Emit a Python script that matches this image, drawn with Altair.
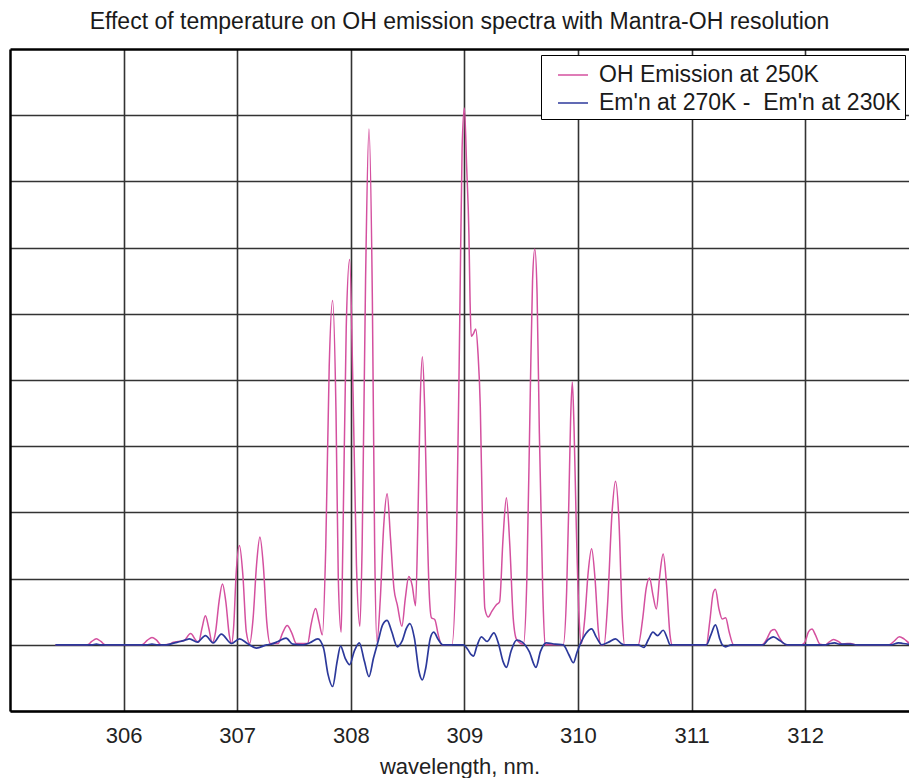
import altair as alt
import pandas as pd

# ---- data ----
emission_label = "OH Emission at 250K"
diff_label = "Em'n at 270K -\u00a0 Em'n at 230K"

# OH emission at 250K: (wavelength nm, intensity)
emission_points = [
    (305.40, 0), (305.68, 0), (305.72, 0.05), (305.76, 0.09), (305.80, 0.05), (305.84, 0),
    (306.16, 0), (306.21, 0.07), (306.25, 0.11), (306.29, 0.07), (306.33, 0),
    (306.40, 0.01), (306.44, 0.04), (306.48, 0.05), (306.53, 0.06), (306.59, 0.17),
    (306.64, 0.06), (306.66, 0.04), (306.69, 0.25), (306.72, 0.44), (306.75, 0.25),
    (306.78, 0.03), (306.81, 0.2), (306.84, 0.65), (306.87, 0.92), (306.90, 0.65),
    (306.93, 0.15), (306.95, 0.02), (306.97, 0.3), (306.99, 1.05), (307.02, 1.50),
    (307.05, 1.05), (307.08, 0.2), (307.11, 0.02), (307.14, 0.4), (307.17, 1.2),
    (307.20, 1.63), (307.23, 1.2), (307.26, 0.35), (307.29, 0.02), (307.36, 0.02),
    (307.40, 0.18), (307.44, 0.29), (307.48, 0.18), (307.52, 0.02), (307.62, 0.02),
    (307.65, 0.3), (307.69, 0.55), (307.72, 0.35), (307.75, 0.15), (307.78, 1.5),
    (307.81, 4.2), (307.84, 5.20), (307.87, 3.5), (307.89, 1.0), (307.915, 0.19),
    (307.93, 1.5), (307.96, 4.8), (307.99, 5.82), (308.02, 3.8), (308.05, 1.2),
    (308.08, 0.28), (308.10, 1.5), (308.13, 5.5), (308.16, 7.79), (308.19, 5.2),
    (308.21, 1.5), (308.23, 0.05), (308.26, 0.7), (308.29, 1.8), (308.32, 2.28),
    (308.35, 1.6), (308.38, 0.85), (308.41, 0.6), (308.45, 0.28), (308.48, 0.7),
    (308.51, 1.03), (308.54, 0.9), (308.57, 0.59), (308.59, 1.8), (308.61, 3.6),
    (308.63, 4.35), (308.65, 3.6), (308.67, 2.0), (308.69, 0.8), (308.71, 0.41),
    (308.74, 0.38), (308.77, 0.15), (308.80, 0), (308.89, 0), (308.93, 1.5),
    (308.96, 5.0), (308.98, 7.5), (309.00, 8.11), (309.02, 7.22), (309.04, 6.2),
    (309.05, 5.2), (309.06, 4.66), (309.08, 4.7), (309.10, 4.77), (309.12, 4.4),
    (309.14, 3.6), (309.16, 1.8), (309.18, 0.55), (309.21, 0.42), (309.24, 0.5),
    (309.28, 0.6), (309.31, 0.65), (309.34, 1.6), (309.37, 2.22), (309.40, 1.5),
    (309.43, 0.4), (309.46, 0.08), (309.52, 0.01), (309.55, 1.0), (309.58, 3.8),
    (309.60, 5.5), (309.62, 5.98), (309.64, 5.3), (309.66, 3.2), (309.69, 0.8),
    (309.71, 0), (309.87, 0), (309.90, 0.8), (309.92, 2.2), (309.935, 3.4),
    (309.95, 3.97), (309.965, 3.3), (309.985, 1.8), (310.01, 0.4), (310.03, 0.02),
    (310.06, 0.4), (310.09, 1.1), (310.12, 1.45), (310.15, 1.0), (310.18, 0.2),
    (310.20, 0), (310.23, 0), (310.26, 0.6), (310.30, 2.0), (310.33, 2.47),
    (310.36, 1.9), (310.39, 0.4), (310.41, 0), (310.53, 0), (310.57, 0.4),
    (310.60, 0.85), (310.63, 1.01), (310.66, 0.75), (310.69, 0.54), (310.72, 1.05),
    (310.75, 1.37), (310.78, 0.9), (310.81, 0.15), (310.83, 0), (311.13, 0),
    (311.16, 0.35), (311.19, 0.78), (311.21, 0.84), (311.24, 0.55), (311.27, 0.39),
    (311.30, 0.41), (311.33, 0.2), (311.37, 0), (311.62, 0), (311.66, 0.08),
    (311.70, 0.21), (311.73, 0.23), (311.77, 0.12), (311.81, 0.02), (311.84, 0),
    (311.97, 0), (312.00, 0.05), (312.03, 0.2), (312.06, 0.24), (312.09, 0.15),
    (312.13, 0.01), (312.18, 0), (312.21, 0.04), (312.25, 0.08), (312.30, 0.04),
    (312.33, 0.01), (312.37, 0.02), (312.40, 0.02), (312.45, 0), (312.74, 0),
    (312.78, 0.05), (312.83, 0.12), (312.87, 0.09), (312.92, 0.02), (312.95, 0),
]

# Emission at 270K minus emission at 230K
difference_points = [
    (305.40, 0), (305.72, 0), (305.76, 0.01), (305.80, 0), (306.20, 0),
    (306.25, 0.01), (306.30, 0), (306.38, 0), (306.45, 0.03), (306.50, 0.05),
    (306.54, 0.07), (306.58, 0.09), (306.65, 0.04), (306.72, 0.14), (306.79, 0.03),
    (306.86, 0.16), (306.95, 0.02), (307.02, 0.09), (307.09, 0.02), (307.17, -0.05),
    (307.26, 0), (307.30, 0.01), (307.36, 0.05), (307.43, 0.1), (307.49, 0.01),
    (307.58, 0), (307.64, 0.03), (307.71, 0.09), (307.76, -0.05), (307.80, -0.45),
    (307.84, -0.63), (307.88, -0.25), (307.91, -0.02), (307.95, -0.2), (307.99, -0.30),
    (308.03, -0.1), (308.075, 0.03), (308.12, -0.25), (308.16, -0.48), (308.20, -0.2),
    (308.24, 0.05), (308.28, 0.3), (308.32, 0.37), (308.36, 0.2), (308.41, -0.03),
    (308.45, 0.05), (308.49, 0.25), (308.52, 0.32), (308.56, 0.1), (308.60, -0.4),
    (308.63, -0.53), (308.66, -0.35), (308.70, 0.1), (308.73, 0.19), (308.77, 0.08),
    (308.81, 0), (308.99, 0), (309.03, -0.07), (309.06, -0.15), (309.08, -0.17),
    (309.11, -0.02), (309.15, 0.12), (309.20, 0.05), (309.26, 0.18), (309.30, 0.02),
    (309.34, -0.25), (309.37, -0.34), (309.41, -0.1), (309.46, 0.07), (309.51, 0.04),
    (309.57, -0.1), (309.63, -0.34), (309.67, -0.1), (309.72, 0.03), (309.80, 0.01),
    (309.87, 0), (309.92, -0.15), (309.96, -0.27), (309.99, -0.12), (310.02, 0.01),
    (310.07, 0.17), (310.12, 0.24), (310.16, 0.12), (310.21, 0.0), (310.27, 0.04),
    (310.33, 0.09), (310.38, 0.02), (310.41, 0), (310.53, 0), (310.58, -0.04),
    (310.62, 0.08), (310.66, 0.19), (310.70, 0.14), (310.75, 0.22), (310.79, 0.08),
    (310.81, 0), (311.13, 0), (311.17, 0.15), (311.21, 0.30), (311.25, 0.08),
    (311.27, 0), (311.30, -0.03), (311.35, 0), (311.63, 0), (311.67, 0.07),
    (311.72, 0.12), (311.78, 0.06), (311.84, 0), (312.18, 0), (312.22, 0.02),
    (312.26, 0.03), (312.30, 0.01), (312.36, 0.01), (312.40, 0.01), (312.45, 0),
    (312.76, 0), (312.82, 0.03), (312.86, 0.02), (312.95, 0),
]

x_ticks = [306, 307, 308, 309, 310, 311, 312]
y_grid = [-1, 0, 1, 2, 3, 4, 5, 6, 7, 8, 9]
series_order = [emission_label, diff_label]
series_colors = ["#d4509f", "#2c399b"]

rows = []
for i, (x, y) in enumerate(emission_points):
    rows.append({"wl": x, "val": y, "series": emission_label, "idx": i})
for i, (x, y) in enumerate(difference_points):
    rows.append({"wl": x, "val": y, "series": diff_label, "idx": i})
df = pd.DataFrame(rows)

FONT = "Liberation Sans"

x_enc = alt.X(
    "wl:Q",
    scale=alt.Scale(domain=[305, 312.914], nice=False, zero=False),
    axis=alt.Axis(
        values=x_ticks, title="wavelength, nm.", grid=True, ticks=False,
        labelFontSize=22, titleFontSize=22, labelFont=FONT, titleFont=FONT,
        titleFontWeight="normal", labelPadding=14, titlePadding=10,
        labelColor="#222222", titleColor="#222222",
        domainColor="#000000", domainWidth=2.5,
        gridColor="#333333", gridWidth=1.6,
    ),
)
y_enc = alt.Y(
    "val:Q",
    scale=alt.Scale(domain=[-1, 9], nice=False, zero=False),
    axis=alt.Axis(
        values=y_grid, title=None, labels=False, ticks=False, grid=True,
        domainColor="#000000", domainWidth=2.5,
        gridColor={"condition": {"test": "datum.value >= 9", "value": "#000000"}, "value": "#333333"},
        gridWidth={"condition": {"test": "datum.value >= 9", "value": 2.5}, "value": 1.6},
    ),
)
color_enc = alt.Color(
    "series:N",
    scale=alt.Scale(domain=series_order, range=series_colors),
    legend=alt.Legend(
        title=None, orient="none", legendX=531, legendY=6,
        labelFontSize=23, labelFont=FONT, labelColor="#1a1a1a",
        symbolType="stroke", symbolSize=900, symbolStrokeWidth=1.5,
        symbolOffset=12, labelOffset=10, padding=4, rowPadding=0,
        strokeColor="#000000", fillColor="#ffffff", labelLimit=500,
    ),
)

base = alt.Chart(df)
pink = base.transform_filter(alt.datum.series == emission_label).mark_line(
    strokeWidth=1.5, interpolate="monotone", clip=True
).encode(x=x_enc, y=y_enc, color=color_enc, order="idx:Q")
blue = base.transform_filter(alt.datum.series == diff_label).mark_line(
    strokeWidth=1.7, interpolate="monotone", clip=True
).encode(x=x_enc, y=y_enc, color=color_enc, order="idx:Q")

chart = alt.layer(pink, blue).properties(
    width=899, height=662,
    title=alt.TitleParams(
        "Effect of temperature on OH emission spectra with Mantra-OH resolution",
        fontSize=23, font=FONT, fontWeight="normal", color="#1a1a1a",
        anchor="middle", offset=-3, baseline="alphabetic",
    ),
    autosize=alt.AutoSizeParams(type="none"),
    padding={"left": 10, "top": 49, "right": 0, "bottom": 67},
).configure_view(stroke=None).configure(background="#ffffff")

chart.save("out.html", embed_options={"renderer": "svg", "actions": False})
